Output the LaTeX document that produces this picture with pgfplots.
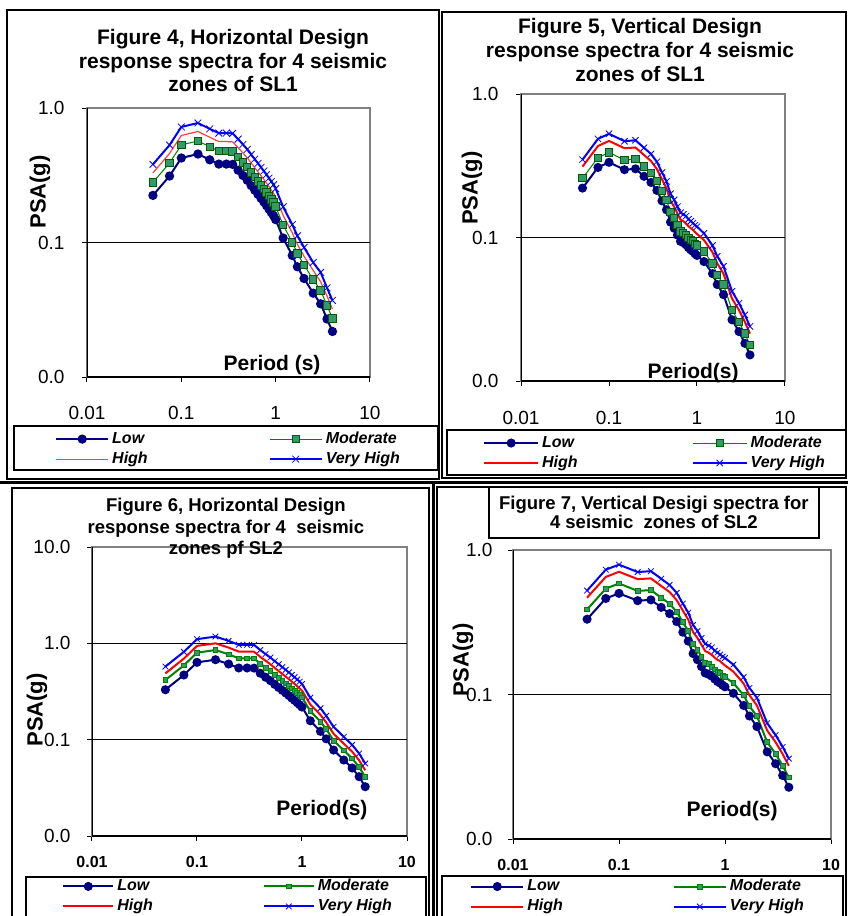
\documentclass[border=0pt]{standalone}
\usepackage{fontspec}
\setmainfont{Liberation Sans}
\usepackage{pgfplots}
\pgfplotsset{compat=1.18}
\usepackage{pgfplotstable}

\definecolor{lownavy}{RGB}{0,0,128}
\definecolor{modgreen}{RGB}{0,128,0}
\definecolor{modfill}{RGB}{51,153,102}
\definecolor{vhblue}{RGB}{0,0,255}
\definecolor{lightred}{RGB}{255,64,64}
\definecolor{framegray}{RGB}{128,128,128}

% Figure 4: horizontal, SL1
\pgfplotstableread{
T     low    mod    high   vh
0.05  0.224  0.280  0.329  0.381
0.075 0.312  0.390  0.459  0.530
0.1   0.425  0.531  0.625  0.723
0.15  0.455  0.569  0.669  0.774
0.2   0.412  0.515  0.606  0.700
0.25  0.383  0.479  0.563  0.651
0.3   0.383  0.479  0.563  0.651
0.35  0.381  0.476  0.560  0.648
0.4   0.345  0.431  0.507  0.587
0.45  0.315  0.394  0.463  0.536
0.5   0.290  0.363  0.426  0.493
0.55  0.265  0.331  0.390  0.451
0.6   0.245  0.306  0.360  0.417
0.65  0.228  0.285  0.335  0.388
0.7   0.213  0.266  0.313  0.362
0.75  0.200  0.250  0.294  0.340
0.8   0.188  0.235  0.276  0.320
0.85  0.177  0.221  0.260  0.301
0.9   0.167  0.209  0.245  0.284
0.95  0.158  0.198  0.232  0.269
1.0   0.148  0.185  0.218  0.252
1.2   0.108  0.135  0.159  0.184
1.5   0.080  0.100  0.118  0.136
1.7   0.066  0.083  0.097  0.112
2.0   0.054  0.068  0.079  0.092
2.5   0.042  0.053  0.062  0.071
3.0   0.035  0.044  0.051  0.060
3.5   0.027  0.034  0.040  0.046
4.0   0.0218 0.0273 0.0320 0.0371
}\hsone

% Figure 5: vertical, SL1
\pgfplotstableread{
T     low    mod    high   vh
0.05  0.221  0.259  0.312  0.349
0.075 0.308  0.360  0.434  0.487
0.1   0.334  0.391  0.471  0.528
0.15  0.297  0.347  0.419  0.469
0.2   0.301  0.352  0.424  0.476
0.25  0.267  0.312  0.376  0.422
0.3   0.242  0.283  0.341  0.382
0.35  0.213  0.249  0.300  0.337
0.4   0.180  0.211  0.254  0.284
0.45  0.156  0.183  0.220  0.246
0.5   0.128  0.150  0.180  0.202
0.55  0.116  0.136  0.164  0.183
0.6   0.104  0.122  0.147  0.164
0.65  0.094  0.110  0.133  0.149
0.7   0.092  0.108  0.130  0.145
0.75  0.089  0.104  0.125  0.141
0.8   0.085  0.099  0.120  0.134
0.85  0.082  0.096  0.116  0.130
0.9   0.080  0.094  0.113  0.126
0.95  0.077  0.090  0.109  0.122
1.0   0.075  0.088  0.106  0.119
1.2   0.068  0.080  0.096  0.107
1.5   0.056  0.066  0.079  0.088
1.7   0.047  0.055  0.066  0.074
2.0   0.040  0.047  0.056  0.063
2.5   0.0267 0.0312 0.0376 0.0422
3.0   0.0221 0.0259 0.0312 0.0349
3.5   0.0183 0.0214 0.0258 0.0289
4.0   0.0152 0.0178 0.0214 0.0240
}\vsone

% Figure 6: horizontal, SL2
\pgfplotstableread{
T     low    mod    high   vh
0.05  0.330  0.416  0.488  0.574
0.075 0.469  0.591  0.694  0.816
0.1   0.635  0.800  0.940  1.105
0.15  0.676  0.852  1.000  1.176
0.2   0.610  0.769  0.903  1.061
0.25  0.555  0.699  0.821  0.966
0.3   0.555  0.699  0.821  0.966
0.35  0.553  0.697  0.818  0.962
0.4   0.490  0.617  0.725  0.853
0.45  0.445  0.561  0.659  0.774
0.5   0.410  0.517  0.607  0.713
0.55  0.375  0.473  0.555  0.653
0.6   0.348  0.438  0.515  0.606
0.65  0.325  0.410  0.481  0.566
0.7   0.305  0.384  0.451  0.531
0.75  0.287  0.362  0.425  0.499
0.8   0.270  0.340  0.400  0.470
0.85  0.256  0.323  0.379  0.445
0.9   0.242  0.305  0.358  0.421
0.95  0.230  0.290  0.340  0.400
1.0   0.218  0.275  0.323  0.379
1.2   0.157  0.198  0.232  0.273
1.5   0.122  0.154  0.181  0.212
1.7   0.102  0.129  0.151  0.177
2.0   0.078  0.098  0.115  0.136
2.5   0.0615 0.0775 0.0910 0.107
3.0   0.0508 0.0640 0.0752 0.0884
3.5   0.0413 0.0520 0.0611 0.0719
4.0   0.0325 0.0410 0.0481 0.0566
}\hstwo

% Figure 7: vertical, SL2
\pgfplotstableread{
T     low    mod    high   vh
0.05  0.332  0.388  0.468  0.524
0.075 0.462  0.540  0.651  0.731
0.1   0.501  0.587  0.707  0.792
0.15  0.446  0.521  0.629  0.704
0.2   0.452  0.528  0.636  0.714
0.25  0.401  0.468  0.564  0.633
0.3   0.363  0.425  0.512  0.573
0.35  0.320  0.374  0.450  0.506
0.4   0.270  0.317  0.381  0.426
0.45  0.234  0.275  0.330  0.369
0.5   0.192  0.225  0.270  0.303
0.55  0.174  0.204  0.246  0.275
0.6   0.156  0.183  0.221  0.246
0.65  0.141  0.165  0.200  0.224
0.7   0.138  0.162  0.195  0.218
0.75  0.134  0.156  0.188  0.212
0.8   0.128  0.149  0.180  0.201
0.85  0.123  0.144  0.174  0.195
0.9   0.120  0.141  0.170  0.189
0.95  0.116  0.135  0.164  0.183
1.0   0.113  0.132  0.159  0.179
1.2   0.102  0.120  0.144  0.161
1.5   0.084  0.099  0.119  0.132
1.7   0.071  0.083  0.099  0.111
2.0   0.060  0.071  0.084  0.095
2.5   0.0401 0.0468 0.0564 0.0633
3.0   0.0332 0.0389 0.0468 0.0524
3.5   0.0275 0.0321 0.0387 0.0434
4.0   0.0228 0.0267 0.0321 0.0360
}\vstwo

% settings shared by the four axes
\pgfplotsset{every axis/.append style={
    scale only axis,
    xmode=log, ymode=log,
    xmin=0.01, xmax=10, ymin=0.01,
    xtick={0.01,0.1,1,10}, xticklabels={0.01,0.1,1,10},
    xminorticks=false, yminorticks=false,
    tick align=outside, tick pos=left, major tick length=5pt,
    tick style={black, line width=1pt},
    axis line style={framegray, line width=1.2pt},
    extra y tick labels={}, extra y tick style={grid=major},
    major grid style={black, line width=0.9pt},
    ticklabel style={font=\fontsize{19}{22}\selectfont},
    ylabel={PSA(g)},
    ylabel style={anchor=center, font=\bfseries\fontsize{22}{24}\selectfont},
    xlabel style={anchor=center, font=\bfseries\fontsize{21}{24}\selectfont},
    title style={anchor=center, align=center},
    legend columns=2, legend cell align=left,
    legend style={draw=none, fill=none, inner sep=0pt, anchor=west,
      font=\bfseries\itshape\fontsize{16}{19}\selectfont,
      nodes={text height=12pt, text depth=4pt, inner xsep=3pt, inner ysep=2pt}},
}}

\begin{document}
\begin{tikzpicture}
\useasboundingbox (0pt,0pt) rectangle (848pt,-916pt);

% frames of the four chart objects and their legends
\draw[line width=2pt] (7pt,-10pt) rectangle (439pt,-479pt);
\draw[line width=2pt] (442pt,-12pt) rectangle (846pt,-478pt);
\draw[line width=1.2pt] (14pt,-426pt) rectangle (438pt,-470pt);
\draw[line width=1.2pt] (447pt,-430pt) rectangle (846pt,-475pt);
\draw[line width=3pt] (0pt,-482pt) -- (848pt,-482pt);
\draw[line width=3pt] (433pt,-482pt) -- (433pt,-920pt);
\draw[line width=1.2pt] (12pt,-488pt) rectangle (429pt,-930pt);
\draw[line width=1.2pt] (437pt,-487pt) rectangle (846pt,-930pt);
\draw[line width=1.2pt] (26pt,-877pt) rectangle (426pt,-925pt);
\draw[line width=1.2pt] (442pt,-876pt) rectangle (843pt,-925pt);

% Figure 4
\begin{axis}[at={(87pt,-108pt)}, anchor=north west,
  width=283pt, height=269pt, ymax=1,
  ytick={0.01,0.1,1}, yticklabels={0.0,0.1,1.0}, extra y ticks={0.1},
  xticklabel style={yshift=-21pt}, yticklabel style={xshift=-14pt},
  title={Figure 4, Horizontal Design\\response spectra for 4 seismic\\zones of SL1},
  title style={at={(axis description cs:0.516,1.154)}, font=\bfseries\fontsize{21}{23.5}\selectfont},
  xlabel={Period (s)}, xlabel style={at={(axis description cs:0.654,0.045)}},
  ylabel style={at={(axis description cs:-0.166,0.688)}},
  legend style={at={(axis description cs:-0.113,-0.268)},
    /tikz/every even column/.append style={column sep=118pt}},
  legend image code/.code={\draw[mark repeat=2,mark phase=2,#1] plot coordinates {(0pt,0pt) (26pt,0pt) (52pt,0pt)};}]
\addplot[lownavy, line width=2pt, mark=*, mark size=3.6pt, mark options={fill=lownavy}] table[x=T,y=low]{\hsone};
\addplot[modgreen, line width=1pt, mark=square*, mark size=3.7pt, mark options={fill=modfill, draw=modgreen!70!black}] table[x=T,y=mod]{\hsone};
\addplot[lightred, line width=1.2pt, no markers] table[x=T,y=high]{\hsone};
\addplot[vhblue, line width=2pt, mark=x, mark size=4.8pt, mark options={line width=0.8pt}] table[x=T,y=vh]{\hsone};
\draw[black, line width=1.2pt] (rel axis cs:0,1) -- (rel axis cs:0,0) -- (rel axis cs:1,0);
\legend{Low,Moderate,High,Very High}
\end{axis}

% Figure 5
\begin{axis}[at={(521pt,-94pt)}, anchor=north west,
  width=264pt, height=287pt, ymax=1,
  ytick={0.01,0.1,1}, yticklabels={0.0,0.1,1.0}, extra y ticks={0.1},
  xticklabel style={yshift=-22pt}, yticklabel style={xshift=-14pt},
  title={Figure 5, Vertical Design\\response spectra for 4 seismic\\zones of SL1},
  title style={at={(axis description cs:0.451,1.132)}, font=\bfseries\fontsize{21}{24}\selectfont},
  xlabel={Period(s)}, xlabel style={at={(axis description cs:0.652,0.028)}},
  ylabel style={at={(axis description cs:-0.186,0.672)}},
  legend style={at={(axis description cs:-0.144,-0.251)},
    /tikz/every even column/.append style={column sep=111pt}},
  legend image code/.code={\draw[mark repeat=2,mark phase=2,#1] plot coordinates {(0pt,0pt) (27pt,0pt) (54pt,0pt)};}]
\addplot[lownavy, line width=2pt, mark=*, mark size=3.5pt, mark options={fill=lownavy}] table[x=T,y=low]{\vsone};
\addplot[modgreen, line width=1pt, mark=square*, mark size=3.6pt, mark options={fill=modfill, draw=modgreen!70!black}] table[x=T,y=mod]{\vsone};
\addplot[red, line width=2pt, no markers] table[x=T,y=high]{\vsone};
\addplot[vhblue, line width=2pt, mark=x, mark size=4.5pt, mark options={line width=0.8pt}] table[x=T,y=vh]{\vsone};
\draw[black, line width=1.2pt] (rel axis cs:0,1) -- (rel axis cs:0,0) -- (rel axis cs:1,0);
\legend{Low,Moderate,High,Very High}
\end{axis}

% Figure 6
\begin{axis}[at={(92pt,-547pt)}, anchor=north west,
  width=315pt, height=289pt, ymax=10,
  ytick={0.01,0.1,1,10}, yticklabels={0.0,0.1,1.0,10.0}, extra y ticks={0.1,1},
  xticklabel style={yshift=-12pt, font=\bfseries\fontsize{16}{19}\selectfont},
  yticklabel style={xshift=-13pt},
  title={Figure 6, Horizontal Design\\response spectra for 4\ \ seismic\\zones pf SL2},
  title style={at={(axis description cs:0.425,1.043)}, font=\bfseries\fontsize{18.5}{21.5}\selectfont},
  xlabel={Period(s)}, xlabel style={at={(axis description cs:0.730,0.090)}},
  ylabel style={at={(axis description cs:-0.175,0.436)}},
  legend style={at={(axis description cs:-0.095,-0.209)},
    /tikz/every even column/.append style={column sep=107pt}},
  legend image code/.code={\draw[mark repeat=2,mark phase=2,#1] plot coordinates {(0pt,0pt) (25pt,0pt) (50pt,0pt)};}]
\addplot[lownavy, line width=2pt, mark=*, mark size=3.5pt, mark options={fill=lownavy}] table[x=T,y=low]{\hstwo};
\addplot[modgreen, line width=2pt, mark=square*, mark size=2.4pt, mark options={fill=modfill, draw=modgreen, line width=0.8pt}] table[x=T,y=mod]{\hstwo};
\addplot[red, line width=2pt, no markers] table[x=T,y=high]{\hstwo};
\addplot[vhblue, line width=2pt, mark=x, mark size=4pt, mark options={line width=0.8pt}] table[x=T,y=vh]{\hstwo};
\draw[black, line width=1.2pt] (rel axis cs:0,1) -- (rel axis cs:0,0) -- (rel axis cs:1,0);
\legend{Low,Moderate,High,Very High}
\end{axis}

% Figure 7
\begin{axis}[at={(513pt,-550pt)}, anchor=north west,
  width=318pt, height=289pt, ymax=1,
  ytick={0.01,0.1,1}, yticklabels={0.0,0.1,1.0}, extra y ticks={0.1},
  xticklabel style={yshift=-12pt, font=\bfseries\fontsize{16}{19}\selectfont},
  yticklabel style={xshift=-12pt},
  title={Figure 7, Vertical Desigi spectra for\\4 seismic\ \ zones of SL2},
  title style={at={(axis description cs:0.443,1.109)}, font=\bfseries\fontsize{18.5}{19.5}\selectfont,
    draw=black, line width=1.5pt, fill=white, minimum width=330pt, minimum height=51pt, inner sep=0pt},
  xlabel={Period(s)}, xlabel style={at={(axis description cs:0.689,0.097)}},
  ylabel style={at={(axis description cs:-0.157,0.619)}},
  legend style={at={(axis description cs:-0.135,-0.199)},
    /tikz/every even column/.append style={column sep=107pt}},
  legend image code/.code={\draw[mark repeat=2,mark phase=2,#1] plot coordinates {(0pt,0pt) (26pt,0pt) (52pt,0pt)};}]
\addplot[lownavy, line width=2pt, mark=*, mark size=3.5pt, mark options={fill=lownavy}] table[x=T,y=low]{\vstwo};
\addplot[modgreen, line width=2pt, mark=square*, mark size=2.4pt, mark options={fill=modfill, draw=modgreen, line width=0.8pt}] table[x=T,y=mod]{\vstwo};
\addplot[red, line width=2pt, no markers] table[x=T,y=high]{\vstwo};
\addplot[vhblue, line width=2pt, mark=x, mark size=4pt, mark options={line width=0.8pt}] table[x=T,y=vh]{\vstwo};
\draw[black, line width=1.2pt] (rel axis cs:0,1) -- (rel axis cs:0,0) -- (rel axis cs:1,0);
\legend{Low,Moderate,High,Very High}
\end{axis}
\end{tikzpicture}
\end{document}
